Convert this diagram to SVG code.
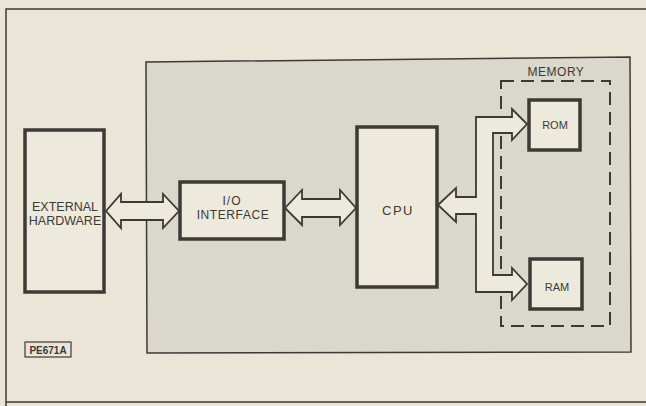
<svg xmlns="http://www.w3.org/2000/svg" width="646" height="406" viewBox="0 0 646 406">
<style>
.ln{fill:none;stroke:#3b3a34;stroke-width:1.5}
.box{fill:#eee9dd;stroke:#3b3a34;stroke-width:3.5}
.arr{fill:#eee9dd;stroke:#3b3a34;stroke-width:1.8;stroke-linejoin:miter}
.t{font-family:"Liberation Sans",Arial,sans-serif;fill:#3b3a34;text-anchor:middle}
</style>
<rect x="0" y="0" width="646" height="406" fill="#ebe5d7"/>
<g id="frame">
<path class="ln" d="M646 9 L6 9 L6 406 M6 402 L646 402"/>
</g>
<g id="system">
<polygon points="146,62 630,57 631,352 147,353" fill="#dad7cc" stroke="#3b3a34" stroke-width="1.5"/>
</g>
<g id="memory">
<rect x="501" y="81" width="109" height="245" fill="none" stroke="#3b3a34" stroke-width="2" stroke-dasharray="13,7"/>
<text class="t" x="556" y="76" font-size="12" letter-spacing="0.5">MEMORY</text>
</g>
<g id="connectors">
<polygon class="arr" points="106,211 121,194 121,202 163,202 163,194 179,211 163,228 163,220 121,220 121,228"/>
<polygon class="arr" points="285,208 302,190 302,199 340,199 340,190 356,208 340,225 340,217 302,217 302,225"/>
<polygon class="arr" points="438,205 456,188 456,197 476,197 476,117 512,117 512,109 527,124 512,140 512,133 493,133 493,275 512,275 512,268 527,284 512,300 512,292 476,292 476,214 456,214 456,222"/>
</g>
<g id="external">
<rect class="box" x="25" y="130" width="79" height="162"/>
<text class="t" x="65" y="211" font-size="12.5">EXTERNAL</text>
<text class="t" x="65" y="225" font-size="12.5">HARDWARE</text>
</g>
<g id="io">
<rect class="box" x="180" y="182" width="104" height="57"/>
<text class="t" x="232" y="205" font-size="12" letter-spacing="1">I/O</text>
<text class="t" x="233" y="219" font-size="12" letter-spacing="0.6">INTERFACE</text>
</g>
<g id="cpu">
<rect class="box" x="357" y="127" width="80" height="160"/>
<text class="t" x="398" y="215" font-size="13" letter-spacing="1.5">CPU</text>
</g>
<g id="rom">
<rect class="box" x="529" y="100" width="51" height="50"/>
<text class="t" x="555" y="129" font-size="11">ROM</text>
</g>
<g id="ram">
<rect class="box" x="530" y="259" width="52" height="50"/>
<text class="t" x="557" y="291" font-size="11">RAM</text>
</g>
<g id="label">
<rect x="25" y="342" width="46" height="15" fill="none" stroke="#3b3a34" stroke-width="1.2"/>
<text class="t" x="48" y="354" font-size="10" font-weight="bold">PE671A</text>
</g>
</svg>
